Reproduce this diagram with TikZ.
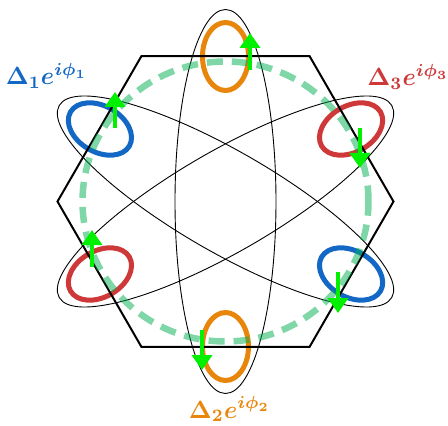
\documentclass[tikz,border=0pt]{standalone}
\usepackage{amsmath, amssymb}
\usepackage{graphicx}
\usepackage{tikz}
\usetikzlibrary{arrows.meta}

\definecolor{pairblue}{RGB}{18,104,196}
\definecolor{pairorange}{RGB}{232,134,12}
\definecolor{pairred}{RGB}{206,56,56}
\definecolor{spinlime}{RGB}{0,240,0}
\definecolor{ringgreen}{RGB}{0,176,80}
\newcommand{\phaselabel}[1]{\scalebox{2.4}[2.5]{\boldmath$#1$}}

\begin{document}
\begin{tikzpicture}[x=1pt,y=1pt,
    pairloop/.style={line width=5pt},
    orbit/.style={line width=0.9pt},
    spin/.style={-{Triangle[width=20pt,length=15pt]},line width=4.5pt,spinlime},
    phase/.style={anchor=base,inner sep=0pt}]
    \useasboundingbox (-225.5,-224.5) rectangle (222.5,201.5);
    \coordinate (O) at (0,0);

    \foreach \a/\c in {90/pairorange,150/pairblue,210/pairred,
                       270/pairorange,330/pairblue,30/pairred}
        \draw[pairloop,\c,rotate=\a] (145,0) ellipse [x radius=34, y radius=23];

    \draw[line width=2pt,line join=miter]
        (0:168) -- (60:168) -- (120:168) -- (180:168) -- (240:168) -- (300:168) -- cycle;

    \foreach \a in {0,60,120}
        \draw[orbit,rotate=\a] (O) ellipse [x radius=50.5, y radius=192];

    \draw[ringgreen,opacity=0.5,line width=6.5pt,dash pattern=on 16pt off 9pt]
        (O) ellipse [x radius=143, y radius=140];

    \foreach \i/\x/\ya/\yb in {1/24.5/131.5/168.5, 2/-110.5/73.5/109.5,
                               3/-133.5/-65.5/-28.5, 4/134.5/73.5/33.5,
                               5/112.5/-70.5/-111.5, 6/-23.5/-128.5/-168.5}
    {
        \coordinate (tail\i) at (\x,\ya);
        \coordinate (tip\i) at (\x,\yb);
        \draw[spin] (tail\i) -- (tip\i);
    }

    \node[phase,pairblue] (delta1) at (-179,116.5) {\phaselabel{\Delta_1 e^{i\phi_1}}};
    \node[phase,pairorange] (delta2) at (4,-216.5) {\phaselabel{\Delta_2 e^{i\phi_2}}};
    \node[phase,pairred] (delta3) at (182.5,115.5) {\phaselabel{\Delta_3 e^{i\phi_3}}};
\end{tikzpicture}
\end{document}
